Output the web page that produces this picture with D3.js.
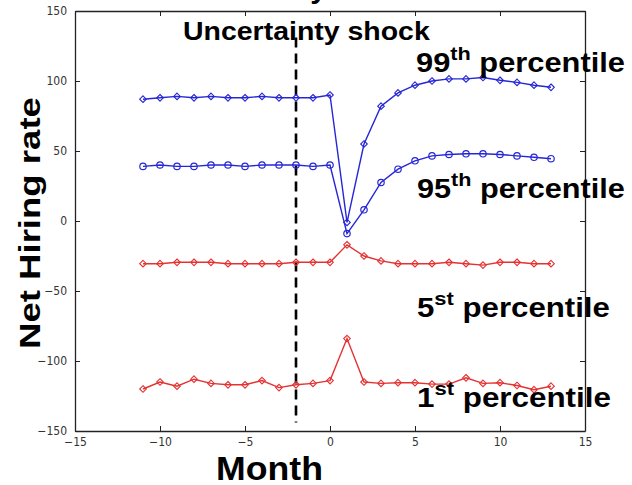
<!DOCTYPE html>
<html>
<head>
<meta charset="utf-8">
<script src="https://cdn.jsdelivr.net/npm/d3@7"></script>
<style>
  html, body { margin: 0; padding: 0; background: #fff; }
  svg { display: block; }
</style>
</head>
<body>
<svg id="chart" width="632" height="485"></svg>
<script>
// ---- data ----
const months = [-11,-10,-9,-8,-7,-6,-5,-4,-3,-2,-1,0,1,2,3,4,5,6,7,8,9,10,11,12,13];
const p99 = [87,88,89,88,89,88,88,89,88,88,88,90,-1,55,82,91.5,97,100,101.5,101.5,102.5,100.5,99,97,95.5];
const p95 = [39,40,39,39,40,40,39,40,40,40,39,40,-9,8,27.5,37,43,46.5,47.5,48,48,47.5,46.5,45.5,44.5];
const p5  = [-30.5,-30.5,-29.5,-29.5,-29.5,-30.5,-30.5,-30.5,-30.5,-29.5,-29.5,-29.5,-17,-25,-28.5,-30.5,-30.5,-30.5,-29.5,-30.5,-31.5,-29.5,-29.5,-30.5,-30.5];
const p1  = [-120,-115,-118,-113,-116,-117,-117,-114,-119,-117,-116,-114,-84,-115,-116,-115.5,-115.5,-116.5,-116.5,-112,-116,-115.5,-117.5,-120.5,-118];
const xTicks = [-15,-10,-5,0,5,10,15];
const yTicks = [-150,-100,-50,0,50,100,150];
const shockMonth = -2;
const labels = [
  {main: "99", sup: "th", rest: " percentile"},
  {main: "95", sup: "th", rest: " percentile"},
  {main: "5",  sup: "st", rest: " percentile"},
  {main: "1",  sup: "st", rest: " percentile"}
];

// ---- layout ----
const svg = d3.select("#chart");
const L = 75, R = 585, T = 11, B = 431;
const x = d3.scaleLinear().domain([-15, 15]).range([L, R]);
const y = d3.scaleLinear().domain([-150, 150]).range([B, T]);

const tickFont = "'Liberation Sans Narrow', 'DejaVu Sans Condensed', 'Liberation Sans', sans-serif";
const boldFont = "'Liberation Sans', Arial, sans-serif";
const blue = "#2626d6", red = "#e43232";

// stub of cut-off title at the very top
svg.append("text").attr("x", 327).attr("y", -2).attr("text-anchor", "end")
  .attr("font-family", boldFont).attr("font-weight", "bold").attr("font-size", 30)
  .text("Uncertainty");

// axes (MATLAB box style, inward ticks)
const ax = svg.append("g").attr("transform", `translate(0,${B})`)
  .call(d3.axisBottom(x).tickValues(xTicks).tickSizeInner(-5).tickSizeOuter(0).tickPadding(6));
const axT = svg.append("g").attr("transform", `translate(0,${T})`)
  .call(d3.axisTop(x).tickValues(xTicks).tickSizeInner(-5).tickSizeOuter(0).tickFormat(""));
const ay = svg.append("g").attr("transform", `translate(${L},0)`)
  .call(d3.axisLeft(y).tickValues(yTicks).tickSizeInner(-5).tickSizeOuter(0).tickPadding(8));
const ayR = svg.append("g").attr("transform", `translate(${R},0)`)
  .call(d3.axisRight(y).tickValues(yTicks).tickSizeInner(-5).tickSizeOuter(0).tickFormat(""));
[ax, axT, ay, ayR].forEach(g => {
  g.select(".domain").attr("stroke", "#222").attr("stroke-width", 1.3);
  g.selectAll(".tick line").attr("stroke", "#222").attr("stroke-width", 1);
  g.selectAll(".tick text").attr("font-family", tickFont).attr("font-size", 12).attr("fill", "#333");
});

// dashed shock line
svg.append("line")
  .attr("x1", x(shockMonth)).attr("x2", x(shockMonth))
  .attr("y1", y(131)).attr("y2", y(-144))
  .attr("stroke", "#000").attr("stroke-width", 2.6).attr("stroke-dasharray", "10,6");

// series
const series = [
  {vals: p99, color: blue, marker: "diamond"},
  {vals: p95, color: blue, marker: "circle"},
  {vals: p5,  color: red,  marker: "diamond"},
  {vals: p1,  color: red,  marker: "diamond"}
];
const line = d3.line().x(d => x(d[0])).y(d => y(d[1]));
series.forEach(s => {
  const pts = months.map((m, i) => [m, s.vals[i]]);
  svg.append("path").datum(pts).attr("d", line)
    .attr("fill", "none").attr("stroke", s.color).attr("stroke-width", 1.4);
  const g = svg.append("g");
  if (s.marker === "circle") {
    g.selectAll("circle").data(pts).join("circle")
      .attr("cx", d => x(d[0])).attr("cy", d => y(d[1])).attr("r", 3.2)
      .attr("fill", "none").attr("stroke", s.color).attr("stroke-width", 1.2);
  } else {
    g.selectAll("path").data(pts).join("path")
      .attr("d", d => { const cx = x(d[0]), cy = y(d[1]), r = 3.3;
        return `M${cx},${cy - r}L${cx + r},${cy}L${cx},${cy + r}L${cx - r},${cy}Z`; })
      .attr("fill", "none").attr("stroke", s.color).attr("stroke-width", 1.1);
  }
});

// helper: stretch text horizontally to a target width
function fit(sel, x0, x1, baseline) {
  const w = sel.node().getComputedTextLength ? sel.node().getBBox().width : 1;
  const k = (x1 - x0) / w;
  sel.attr("transform", `translate(${x0},${baseline}) scale(${k},1)`);
}

// Uncertainty shock
const us = svg.append("text").attr("x", 0).attr("y", 0)
  .attr("font-family", boldFont).attr("font-weight", "bold").attr("font-size", 25)
  .text("Uncertainty shock");
fit(us, 183, 430, 40);

// percentile labels
const labelPos = [
  {x0: 416, x1: 625, b: 72},
  {x0: 417, x1: 625, b: 198},
  {x0: 417, x1: 610, b: 317},
  {x0: 417, x1: 611, b: 407}
];
labels.forEach((lb, i) => {
  const t = svg.append("text").attr("x", 0).attr("y", 0)
    .attr("font-family", boldFont).attr("font-weight", "bold").attr("font-size", 27);
  t.append("tspan").text(lb.main);
  t.append("tspan").attr("font-size", 19).attr("dy", -12).text(lb.sup);
  t.append("tspan").attr("dy", 12).text(lb.rest);
  fit(t, labelPos[i].x0, labelPos[i].x1, labelPos[i].b);
});

// axis titles
const mt = svg.append("text").attr("x", 0).attr("y", 0)
  .attr("font-family", boldFont).attr("font-weight", "bold").attr("font-size", 33)
  .text("Month");
fit(mt, 216, 323, 480);

const yt = svg.append("text").attr("x", 0).attr("y", 0)
  .attr("font-family", boldFont).attr("font-weight", "bold").attr("font-size", 30)
  .text("Net Hiring rate");
const yw = yt.node().getBBox().width;
yt.attr("transform", `translate(40,349) rotate(-90) scale(${(349 - 97) / yw},1)`);
</script>
</body>
</html>
